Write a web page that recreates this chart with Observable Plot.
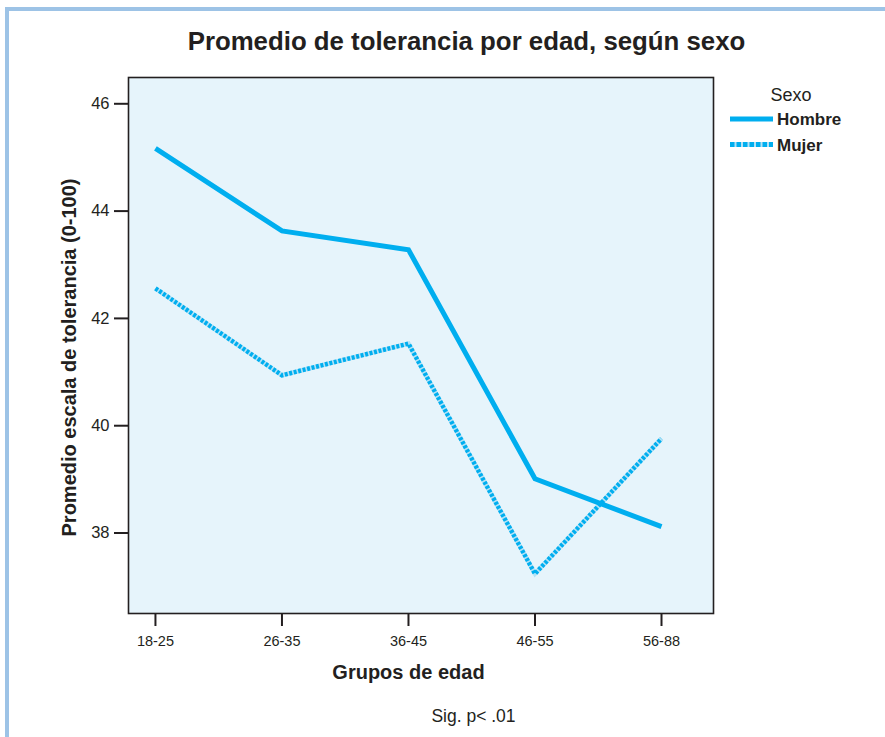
<!DOCTYPE html>
<html><head><meta charset="utf-8">
<script src="https://cdn.jsdelivr.net/npm/d3@7"></script>
<script src="https://cdn.jsdelivr.net/npm/@observablehq/plot@0.6"></script>
<style>
body{margin:0;background:#fff;font-family:"Liberation Sans",Arial,sans-serif;color:#231f20;}
#wrap{position:relative;width:885px;height:737px;overflow:hidden;background:#fff;}
#chart{position:absolute;left:0;top:0;}
.bord-l{position:absolute;left:5px;top:7px;width:4px;height:740px;background:#9dc3e6;}
.bord-t{position:absolute;left:5px;top:7px;width:890px;height:4px;background:#9dc3e6;}
#title{position:absolute;left:24px;width:885px;top:26px;text-align:center;font-weight:bold;font-size:25.8px;line-height:30px;white-space:nowrap;}
#caption{position:absolute;left:31px;width:885px;top:706px;text-align:center;font-size:17.5px;line-height:20px;}
#legend{position:absolute;left:0;top:0;}
</style>
</head><body>
<div id="wrap">
  <div id="chart"></div>
  <div class="bord-l"></div>
  <div class="bord-t"></div>
  <div id="title">Promedio de tolerancia por edad, según sexo</div>
  <svg id="legend" width="885" height="200"></svg>
  <div id="caption">Sig. p&lt; .01</div>
</div>
<script>
const groups = ["18-25", "26-35", "36-45", "46-55", "56-88"];
const hombre = [45.17, 43.63, 43.28, 39.01, 38.12];
const mujer = [42.56, 40.94, 41.53, 37.24, 39.76];
const yTicks = [38, 40, 42, 44, 46];
const series = ["Hombre", "Mujer"];
const legendTitle = "Sexo";
const xLabel = "Grupos de edad";
const yLabel = "Promedio escala de tolerancia (0-100)";

const rows = groups.flatMap((g, i) => [
  {i, g, sexo: "Hombre", v: hombre[i]},
  {i, g, sexo: "Mujer", v: mujer[i]}
]);
const H = rows.filter(d => d.sexo === "Hombre");
const M = rows.filter(d => d.sexo === "Mujer");
const blue = "#00aeef";
const font = "Liberation Sans, Arial, sans-serif";

const chart = Plot.plot({
  width: 885, height: 737,
  marginLeft: 128, marginRight: 172, marginTop: 77, marginBottom: 124,
  style: {background: "transparent", fontFamily: font, color: "#231f20", overflow: "visible"},
  x: {type: "linear", domain: [-0.213, 4.411]},
  y: {domain: [36.5, 46.49]},
  marks: [
    Plot.frame({fill: "#e6f4fb", stroke: null}),
    Plot.axisY({ticks: yTicks, tickSize: 14, tickPadding: 5, tickFormat: d => d, fontSize: 16.5, label: null, strokeWidth: 2}),
    Plot.axisX({ticks: [0, 1, 2, 3, 4], tickFormat: i => groups[i], tickSize: 13, tickPadding: 9, fontSize: 14.5, label: null, strokeWidth: 2}),
    Plot.line(M, {x: "i", y: "v", stroke: "#b3e2f6", strokeWidth: 4.5, strokeLinecap: "butt", strokeLinejoin: "miter", strokeMiterlimit: 4}),
    Plot.line(M, {x: "i", y: "v", stroke: blue, strokeWidth: 4.5, strokeDasharray: "3,1.6", strokeLinecap: "butt", strokeLinejoin: "miter", strokeMiterlimit: 4}),
    Plot.line(H, {x: "i", y: "v", stroke: blue, strokeWidth: 5, strokeLinecap: "butt", strokeLinejoin: "miter", strokeMiterlimit: 4}),
    Plot.frame({stroke: "#231f20", strokeWidth: 1.6}),
    Plot.text([xLabel], {x: [2], text: d => d, frameAnchor: "bottom", dy: 59, textAnchor: "middle", lineAnchor: "middle", fontSize: 20, fontWeight: "bold", fill: "#231f20"}),
    Plot.text([yLabel], {text: d => d, frameAnchor: "left", rotate: -90, dx: -59, dy: 12, textAnchor: "middle", lineAnchor: "middle", fontSize: 20, fontWeight: "bold", fill: "#231f20"})
  ]
});
document.getElementById("chart").appendChild(chart);

// legend
const lg = d3.select("#legend").style("font-family", font);
lg.append("text").attr("x", 791).attr("y", 101).attr("text-anchor", "middle")
  .attr("font-size", 18).attr("fill", "#231f20").text(legendTitle);
series.forEach((s, k) => {
  const y = 119 + k * 25.5;
  if (s === "Mujer") {
    lg.append("line").attr("x1", 730).attr("x2", 773).attr("y1", y).attr("y2", y)
      .attr("stroke", "#b3e2f6").attr("stroke-width", 5);
    lg.append("line").attr("x1", 730).attr("x2", 773).attr("y1", y).attr("y2", y)
      .attr("stroke", blue).attr("stroke-width", 5).attr("stroke-dasharray", "4.5,2");
  } else {
    lg.append("line").attr("x1", 730).attr("x2", 773).attr("y1", y).attr("y2", y)
      .attr("stroke", blue).attr("stroke-width", 5);
  }
  lg.append("text").attr("x", 777).attr("y", y + 6).attr("font-size", 17)
    .attr("font-weight", "bold").attr("fill", "#231f20").text(s);
});
</script>
</body></html>
